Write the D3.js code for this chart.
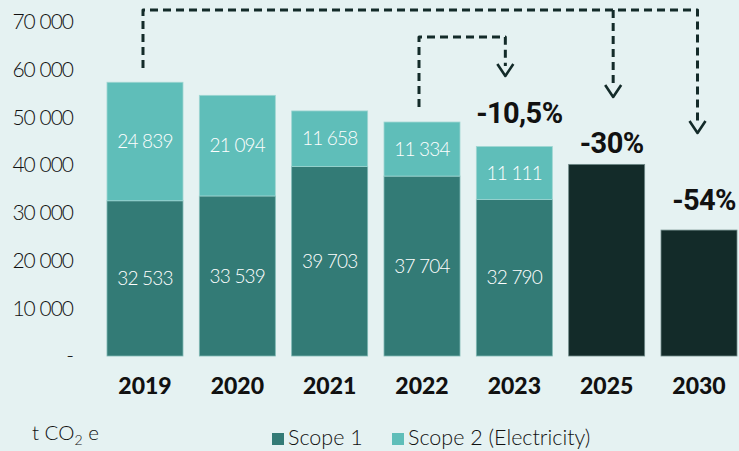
<!DOCTYPE html>
<html><head><meta charset="utf-8">
<script src="https://cdn.jsdelivr.net/npm/d3@7"></script>
<style>
html,body{margin:0;padding:0;background:#e5f2f2;}
svg{display:block;}
</style></head>
<body>
<svg id="chart" width="739" height="451"></svg>
<script>
const years = ["2019","2020","2021","2022","2023","2025","2030"];
const scope1 = [32533,33539,39703,37704,32790,null,null];
const scope2 = [24839,21094,11658,11334,11111,null,null];
const targets = [null,null,null,null,null,40160,26391];
const pctYears = ["2023","2025","2030"];
const pctText = ["-10,5%","-30%","-54%"];
const yTicks = [0,10000,20000,30000,40000,50000,60000,70000];
const yTickLabels = ["-","10 000","20 000","30 000","40 000","50 000","60 000","70 000"];
const legendLabels = ["Scope 1","Scope 2 (Electricity)"];
const unitLabel = "t CO";

const C1="#337b76", C2="#5fbeb9", CD="#132b29", INK="#111";
const svg = d3.select("#chart");
svg.append("rect").attr("width",739).attr("height",451).attr("fill","#e5f2f2");

const x = d3.scaleBand().domain(years).range([107,737]).paddingInner(0.177).paddingOuter(0);
const y = d3.scaleLinear().domain([0,70000]).range([356,22]);
const bw = x.bandwidth();
const cx = yr => x(yr)+bw/2;

// y tick labels
svg.append("g").selectAll("text").data(yTicks).join("text")
  .attr("x",73).attr("y",d=>y(d)).attr("dy","0.35em")
  .attr("text-anchor","end")
  .style("font-family","Lato").style("font-weight",300).style("font-size","21px")
  .style("letter-spacing","-1px").attr("fill",INK)
  .text((d,i)=>yTickLabels[i]);

// bars
const g = svg.append("g");
years.forEach((yr,i)=>{
  if(scope1[i]!=null){
    g.append("rect").attr("x",x(yr)).attr("width",bw)
      .attr("y",y(scope1[i])).attr("height",y(0)-y(scope1[i]))
      .attr("fill",C1).attr("stroke","#7fb8b4").attr("stroke-width",0.8);
    g.append("rect").attr("x",x(yr)).attr("width",bw)
      .attr("y",y(scope1[i]+scope2[i])).attr("height",y(0)-y(scope2[i]))
      .attr("fill",C2).attr("stroke","#9fd6d2").attr("stroke-width",0.8);
    [[scope1[i],0],[scope2[i],scope1[i]]].forEach(([v,base])=>{
      g.append("text").attr("x",cx(yr)).attr("y",(y(base)+y(base+v))/2).attr("dy","0.35em")
        .attr("text-anchor","middle").attr("fill","#fff")
        .style("font-family","Lato").style("font-weight",300).style("font-size","19px")
        .style("letter-spacing","-0.8px")
        .text(d3.format(",")(v).replace(/,/g," "));
    });
  }
  if(targets[i]!=null){
    g.append("rect").attr("x",x(yr)).attr("width",bw)
      .attr("y",y(targets[i])).attr("height",y(0)-y(targets[i]))
      .attr("fill",CD).attr("stroke","#6f8a88").attr("stroke-width",0.8);
  }
});

// year labels
svg.append("g").selectAll("text").data(years).join("text")
  .attr("x",d=>cx(d)).attr("y",394).attr("text-anchor","middle")
  .style("font-family","Lato").style("font-weight",900).style("font-size","23px")
  .attr("fill",INK).text(d=>d);

// percentage labels
const pctDy = [24,11,20];
pctYears.forEach((yr,k)=>{
  const i = years.indexOf(yr);
  const top = targets[i]!=null ? targets[i] : scope1[i]+scope2[i];
  svg.append("text").attr("x",cx(yr)+5).attr("y",y(top)-pctDy[k])
    .attr("text-anchor","middle")
    .style("font-family","Roboto").style("font-weight",700).style("font-size","29px")
    .style("letter-spacing","-0.6px")
    .attr("fill",INK).text(pctText[k]);
});

// dashed arrows
const arrows = svg.append("g").attr("fill","none").attr("stroke",CD)
  .attr("stroke-width",3).attr("stroke-linejoin","round");
const dash = "8,5";
const xa19 = cx("2019")-2, xa22 = cx("2022")-3, xa23 = cx("2023")-9,
      xa25 = cx("2025")+6.5, xa30 = cx("2030")-1.5;
arrows.append("path").attr("stroke-dasharray",dash)
  .attr("d",`M${xa19},68 V10 H${xa30} V122`);
arrows.append("path").attr("stroke-dasharray",dash)
  .attr("d",`M${xa25},10 V86`);
arrows.append("path").attr("stroke-dasharray",dash)
  .attr("d",`M${xa22},107 V37 H${xa23} V66`);
const chevron = (xx,tip)=>`M${xx-8},${tip-12} L${xx},${tip} L${xx+8},${tip-12}`;
arrows.append("path").attr("stroke-width",2.6).attr("d",chevron(xa30,133));
arrows.append("path").attr("stroke-width",2.6).attr("d",chevron(xa25,97));
arrows.append("path").attr("stroke-width",2.6).attr("d",chevron(xa23,76));

// unit label
const ut = svg.append("text").attr("x",32).attr("y",440).attr("fill",INK)
  .style("font-family","Lato").style("font-weight",300).style("font-size","20.5px");
ut.append("tspan").text(unitLabel);
ut.append("tspan").attr("dy",5).style("font-size","14px").text("2");
ut.append("tspan").attr("dy",-5).text(" e");

// legend
const lg = svg.append("g");
const legendX = [272, 392];
legendLabels.forEach((l,i)=>{
  lg.append("rect").attr("x",legendX[i]).attr("y",433).attr("width",12).attr("height",12)
    .attr("fill",i===0?C1:C2);
  lg.append("text").attr("x",legendX[i]+16).attr("y",445).attr("fill",INK)
    .style("font-family","Lato").style("font-weight",300).style("font-size","21.5px")
    .text(l);
});
</script>
</body></html>
